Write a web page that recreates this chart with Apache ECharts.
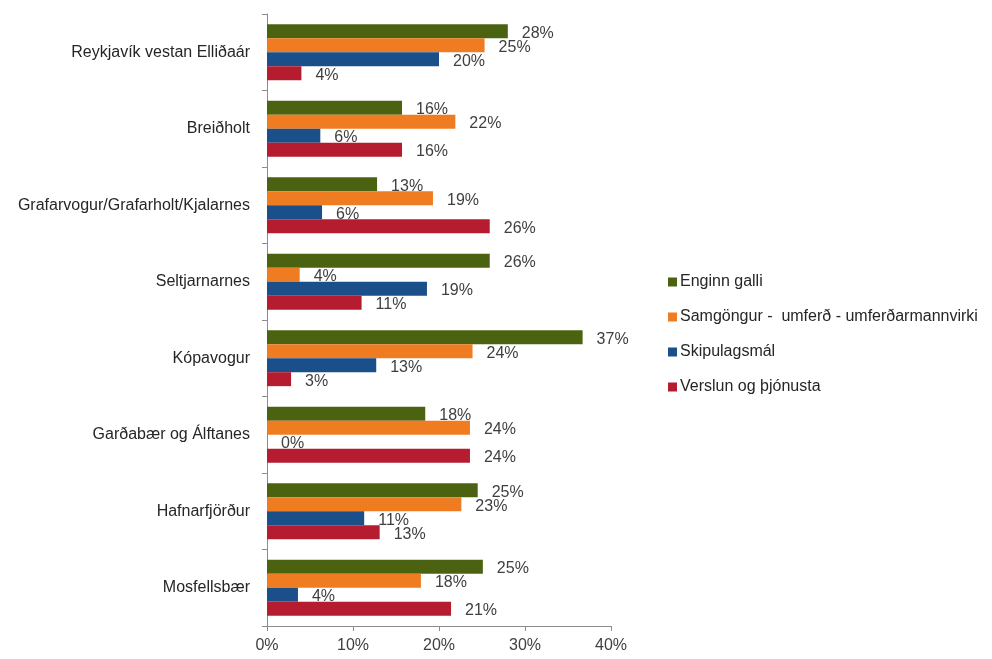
<!DOCTYPE html>
<html>
<head>
<meta charset="utf-8">
<script src="https://cdn.jsdelivr.net/npm/echarts@6/dist/echarts.min.js"></script>
<style>
  html, body { margin: 0; padding: 0; background: #fff; }
  #chart { width: 992px; height: 659px; }
</style>
</head>
<body>
<div id="chart"></div>
<script>
// svæði (flokkar), ofan frá og niður
var categories = [
  "Reykjavík vestan Elliðaár",
  "Breiðholt",
  "Grafarvogur/Grafarholt/Kjalarnes",
  "Seltjarnarnes",
  "Kópavogur",
  "Garðabær og Álftanes",
  "Hafnarfjörður",
  "Mosfellsbær"
];
var seriesNames = [
  "Enginn galli",
  "Samgöngur -  umferð - umferðarmannvirki",
  "Skipulagsmál",
  "Verslun og þjónusta"
];
// gildi í %
var enginnGalli = [28.0, 15.7, 12.8, 25.9, 36.7, 18.4, 24.5, 25.1];
var samgongur   = [25.3, 21.9, 19.3, 3.8, 23.9, 23.6, 22.6, 17.9];
var skipulag    = [20.0, 6.2, 6.4, 18.6, 12.7, 0.0, 11.3, 3.6];
var verslun     = [4.0, 15.7, 25.9, 11.0, 2.8, 23.6, 13.1, 21.4];
var xTicks = [0, 10, 20, 30, 40];

var colors = ["#4b6310", "#f07c22", "#1a4f8a", "#b51c30"];
var allData = [enginnGalli, samgongur, skipulag, verslun];

var myChart = echarts.init(document.getElementById("chart"));

var series = seriesNames.map(function (name, i) {
  return {
    name: name,
    type: "bar",
    data: allData[i],
    barGap: "0%",
    barCategoryGap: "27%",
    itemStyle: { color: colors[i] },
    label: {
      show: true,
      position: "right",
      distance: 14,
      offset: [0, 2],
      color: "#404040",
      fontSize: 16,
      fontFamily: "Liberation Sans, Arial",
      formatter: function (p) { return Math.round(p.value) + "%"; }
    }
  };
});

myChart.setOption({
  animation: false,
  grid: { left: 267, right: 381, top: 14, bottom: 33 },
  legend: {
    orient: "vertical",
    left: 663,
    top: 269,
    itemWidth: 9,
    itemHeight: 9,
    itemGap: 19,
    icon: "rect",
    textStyle: { fontSize: 16, color: "#262626", fontFamily: "Liberation Sans, Arial", padding: [0, 0, 0, -2] },
    data: seriesNames
  },
  xAxis: {
    type: "value",
    min: xTicks[0],
    max: xTicks[xTicks.length - 1],
    interval: 10,
    splitLine: { show: false },
    axisLine: { show: true, lineStyle: { color: "#8c8c8c" } },
    axisTick: { show: true, length: 5, lineStyle: { color: "#8c8c8c" } },
    axisLabel: {
      fontSize: 16,
      color: "#404040",
      margin: 12,
      fontFamily: "Liberation Sans, Arial",
      formatter: "{value}%"
    }
  },
  yAxis: {
    type: "category",
    inverse: true,
    data: categories,
    axisLine: { show: true, lineStyle: { color: "#8c8c8c" } },
    axisTick: { show: true, length: 5, alignWithLabel: false, lineStyle: { color: "#8c8c8c" } },
    axisLabel: {
      fontSize: 16,
      color: "#262626",
      margin: 17,
      fontFamily: "Liberation Sans, Arial"
    }
  },
  series: series
});
</script>
</body>
</html>
